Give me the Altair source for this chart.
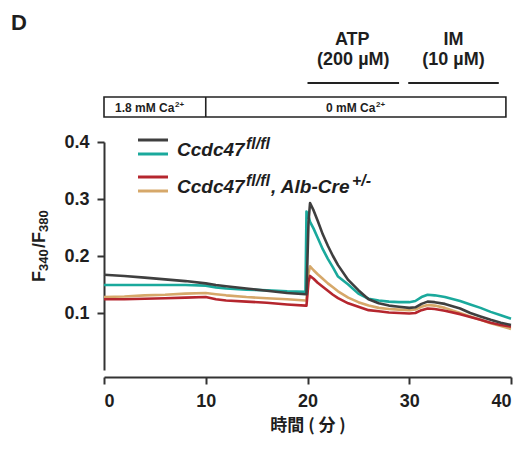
import altair as alt
import pandas as pd

# ---- data ----
time_min = [0, 2, 4, 6, 8, 10, 11, 12, 14, 16, 18, 19.8, 19.9, 20.1, 20.25, 20.6,
            21, 21.5, 22, 22.5, 23, 24, 25, 26, 27, 28, 29, 30, 30.6, 31.2, 31.8,
            32.5, 33.5, 35, 36, 37, 38, 39, 40]
ctrl_grey = [0.167, 0.165, 0.162, 0.159, 0.156, 0.152, 0.149, 0.147, 0.143, 0.139, 0.135,
             0.133, 0.133, 0.26, 0.293, 0.28, 0.262, 0.238, 0.218, 0.2, 0.184, 0.158,
             0.14, 0.124, 0.117, 0.113, 0.111, 0.109, 0.11, 0.116, 0.12, 0.119, 0.116,
             0.108, 0.1, 0.094, 0.088, 0.083, 0.079]
ctrl_teal = [0.149, 0.149, 0.149, 0.149, 0.149, 0.148, 0.145, 0.143, 0.141, 0.14, 0.138,
             0.137, 0.278, 0.27, 0.26, 0.248, 0.232, 0.212, 0.195, 0.18, 0.164, 0.15,
             0.134, 0.125, 0.122, 0.12, 0.119, 0.119, 0.121, 0.128, 0.132, 0.131, 0.128,
             0.121, 0.115, 0.109, 0.102, 0.096, 0.09]
ko_red = [0.124, 0.124, 0.125, 0.126, 0.127, 0.128, 0.124, 0.122, 0.12, 0.118, 0.115,
          0.113, 0.113, 0.155, 0.165, 0.16, 0.153, 0.146, 0.139, 0.132, 0.126, 0.117,
          0.111, 0.105, 0.103, 0.101, 0.1, 0.099, 0.1, 0.105, 0.108, 0.107, 0.104,
          0.098, 0.093, 0.088, 0.083, 0.079, 0.076]
ko_tan = [0.128, 0.129, 0.131, 0.132, 0.134, 0.135, 0.133, 0.131, 0.128, 0.126, 0.124,
          0.122, 0.122, 0.17, 0.182, 0.175, 0.168, 0.16, 0.152, 0.145, 0.138, 0.127,
          0.119, 0.113, 0.109, 0.107, 0.106, 0.105, 0.106, 0.111, 0.114, 0.113, 0.109,
          0.1, 0.094, 0.088, 0.082, 0.077, 0.072]

x_ticks = [0, 10, 20, 30, 40]
y_ticks = [0.1, 0.2, 0.3, 0.4]

# treatments (minutes)
atp_start, atp_end = 20.0, 29.0
im_start, im_end = 29.9, 38.8
bath_switch = 10
bath_end = 39.5

C_GREY, C_TEAL, C_RED, C_TAN = "#3f3f3f", "#1aa99c", "#b5262e", "#d6a86a"
FONT = "Liberation Sans"
TXT = "#1e1e1e"

W, H = 407, 228
one = pd.DataFrame({"k": [0]})

xs = alt.Scale(domain=[0, 40], nice=False)
ys = alt.Scale(domain=[0, 0.4], nice=False)


def line(vals, color):
    df = pd.DataFrame({"t": time_min, "v": vals})
    return alt.Chart(df).mark_line(color=color, strokeWidth=2.6, strokeJoin="round").encode(
        x=alt.X("t:Q", scale=xs,
                axis=alt.Axis(values=x_ticks, title="時間 ( 分 )", offset=7)),
        y=alt.Y("v:Q", scale=ys,
                axis=alt.Axis(values=y_ticks, title=None, format=".1f")),
    )


def text(s, x, y, size, align="left", style="normal", xdata=False, angle=0):
    kw = dict(text=s, fontSize=size, font=FONT, fontWeight="bold", align=align,
              baseline="alphabetic", color=TXT, fontStyle=style)
    if angle:
        kw["angle"] = angle
    xe = alt.datum(x) if xdata else alt.value(x)
    return alt.Chart(one).mark_text(**kw).encode(x=xe, y=alt.value(y))


def hrule(x1, x2, y, color, width, xdata=False):
    if xdata:
        enc = dict(x=alt.datum(x1), x2=alt.datum(x2), y=alt.value(y))
    else:
        enc = dict(x=alt.value(x1), x2=alt.value(x2), y=alt.value(y))
    return alt.Chart(one).mark_rule(color=color, strokeWidth=width).encode(**enc)


layers = [line(ko_tan, C_TAN), line(ko_red, C_RED), line(ctrl_teal, C_TEAL), line(ctrl_grey, C_GREY)]

# panel letter
layers.append(text("D", -93, -112, 22))

# drug annotations
layers += [
    text("ATP", (atp_start + atp_end) / 2 - 0.1, -97, 18, align="center", xdata=True),
    text("(200 µM)", (atp_start + atp_end) / 2, -77, 18, align="center", xdata=True),
    text("IM", (im_start + im_end) / 2, -97, 18, align="center", xdata=True),
    text("(10 µM)", (im_start + im_end) / 2, -77, 18, align="center", xdata=True),
    hrule(atp_start, atp_end, -59, "#222", 2, xdata=True),
    hrule(im_start, im_end, -59, "#222", 2, xdata=True),
]

# bath box
layers.append(
    alt.Chart(one).mark_rect(fill="white", stroke="#222", strokeWidth=1.6).encode(
        x=alt.datum(0), x2=alt.datum(bath_end), y=alt.value(-45), y2=alt.value(-25))
)
layers.append(
    alt.Chart(one).mark_rule(color="#222", strokeWidth=1.6).encode(
        x=alt.datum(bath_switch), y=alt.value(-45), y2=alt.value(-25))
)
layers += [
    text("1.8 mM Ca", 11, -30, 12),
    text("2+", 71, -35, 8),
    text("0 mM Ca", 222, -30, 12),
    text("2+", 272, -35, 8),
]

# legend
layers += [
    hrule(34, 64, -2, C_GREY, 3),
    hrule(34, 64, 12, C_TEAL, 3),
    hrule(34, 64, 35, C_RED, 3),
    hrule(34, 64, 49, C_TAN, 3),
    text("Ccdc47", 73, 14, 19, style="italic"),
    text("fl/fl", 142, 7, 16, style="italic"),
    text("Ccdc47", 73, 51, 19, style="italic"),
    text("fl/fl", 142, 44, 16, style="italic"),
    text(", Alb-Cre", 167, 51, 19, style="italic"),
    text("+/-", 248, 44, 16, style="italic"),
]

# y-axis title F340/F380 (rotated, with subscripts)
layers += [
    text("F", -59, 140, 18, angle=270),
    text("340", -56, 129, 13, angle=270),
    text("/F", -59, 106, 18, angle=270),
    text("380", -56, 90, 13, angle=270),
]

chart = alt.layer(*layers).properties(
    width=W, height=H,
    autosize=alt.AutoSizeParams(type="none"),
    padding={"left": 96, "top": 134, "right": 10, "bottom": 66},
).configure_view(stroke=None).configure_axis(
    grid=False,
    domainColor="#333", domainWidth=2,
    tickColor="#333", tickWidth=2, tickSize=7,
    labelFont=FONT, labelFontSize=18, labelFontWeight="bold", labelColor=TXT,
    labelPadding=8,
    titleFont="Noto Sans CJK JP", titleFontSize=17, titleFontWeight="bold",
    titleColor=TXT, titlePadding=7,
)

chart.save("out.html", embed_options={"renderer": "svg", "actions": False})
